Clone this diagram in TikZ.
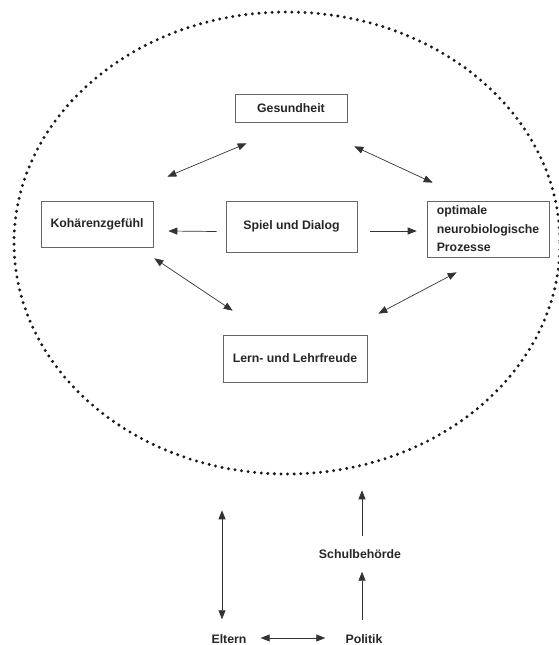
\documentclass[tikz,border=0pt]{standalone}
\usepackage{fontspec}
\setmainfont{Liberation Sans}
\usetikzlibrary{arrows.meta,shapes,calc,positioning}

\begin{document}
\begin{tikzpicture}[x=1pt,y=-1pt]
  \tikzset{ b/.style={draw=black!60,line width=0.7pt,inner sep=0pt,text=black!85,font=\bfseries\fontsize{12.3}{18.5}\selectfont},
    t/.style={inner sep=0pt,text=black!85,font=\bfseries\fontsize{12.3}{15}\selectfont},
    a/.style={draw=black!80,line width=0.7pt,{Triangle[length=9pt,width=7pt]}-{Triangle[length=9pt,width=7pt]}},
    r/.style={draw=black!80,line width=0.7pt,-{Triangle[length=9pt,width=7pt]}},
  }
  \useasboundingbox (0,0) rectangle (559,645);
  \draw[black!90,line width=3.3pt,dash pattern=on 0pt off 6.6pt,line cap=round] (287,243) ellipse [x radius=273,y radius=231];

  \node[b,minimum width=112,minimum height=28] (1) at (291,108) {Gesundheit};
  \node[b,minimum width=112,minimum height=46] (2) at (97,224) {Kohärenzgefühl};
  \node[b,minimum width=131,minimum height=51] (3) at (291.5,226.5) {Spiel und Dialog};
  \node[b,minimum width=122,minimum height=56,align=left] (4) at (488,229) {optimale\\neurobiologische\\Prozesse};
  \node[b,minimum width=144,minimum height=47] (5) at (295,358.5) {Lern- und Lehrfreude};

  \node[t] (6) at (229,639) {Eltern};
  \node[t] (7) at (364,639) {Politik};
  \node[t] (8) at (360,554) {Schulbehörde};

  % the connection between the boxes
  \draw[a] ([shift={(14,-24)}]2.north east) -- ([shift={(12,21)}]1.south west);
  \draw[a] ([shift={(7,24)}]1.south east) -- ([shift={(6,-18)}]4.north west);
  \draw[r] ([shift={(-9,5)}]3.west) -- ([shift={(15,7)}]2.east);
  \draw[r] ([shift={(13,4.5)}]3.east) -- ([shift={(-10,2)}]4.west);
  \draw[a] ([shift={(1,11)}]2.south east) -- ([shift={(10,-24)}]5.north west);
  \draw[a] ([shift={(30,15)}]4.south west) -- ([shift={(11,-21)}]5.north east);

  % outside the circle
  \draw[a] ([shift={(-7,-15)}]6.north) -- ([shift={(-7,-124)}]6.north);
  \draw[a] ([shift={(14,-1)}]6.east) -- ([shift={(-20,-1)}]7.west);
  \draw[r] ([shift={(-2,-14)}]7.north) -- ([shift={(2,13)}]8.south);
  \draw[r] ([shift={(2,-13)}]8.north) -- ([shift={(2,-59)}]8.north);
\end{tikzpicture}
\end{document}
